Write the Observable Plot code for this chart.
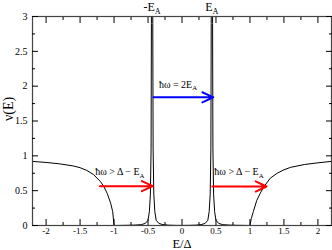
<!DOCTYPE html>
<html><head><meta charset="utf-8">
<script src="https://cdn.jsdelivr.net/npm/d3@7"></script>
<script src="https://cdn.jsdelivr.net/npm/@observablehq/plot@0.6"></script>
<style>body{margin:0;background:#fff}</style>
</head><body><div id="chart"></div>
<script>
// Density of states curve
const energy = [-2.2,-2.0,-1.8,-1.6,-1.5,-1.4,-1.3,-1.2,-1.15,-1.1,-1.05,-1.02,-1.0,
  -0.8,-0.7,-0.6,-0.54,-0.5,-0.48,-0.465,-0.455,-0.45,-0.445,-0.44,-0.435,-0.43,-0.425,-0.415,-0.4,-0.38,-0.34,-0.28,-0.2,-0.1,0,
  0.1,0.2,0.28,0.34,0.38,0.4,0.415,0.425,0.43,0.435,0.44,0.445,0.45,0.455,0.465,0.48,0.5,0.54,0.6,0.7,0.8,
  1.0,1.02,1.05,1.1,1.15,1.2,1.3,1.4,1.5,1.6,1.8,2.0,2.2];
const dos = [0.92,0.905,0.885,0.855,0.83,0.79,0.73,0.63,0.56,0.46,0.32,0.2,0,
  0.003,0.006,0.012,0.03,0.075,0.2,0.45,1.1,2.9,5.5,8,5.5,2.9,1.1,0.45,0.2,0.075,0.03,0.012,0.005,0.002,0.001,
  0.002,0.005,0.012,0.03,0.075,0.2,0.45,1.1,2.9,5.5,8,5.5,2.9,1.1,0.45,0.2,0.075,0.03,0.012,0.006,0.003,
  0,0.1,0.2,0.36,0.46,0.55,0.68,0.75,0.8,0.835,0.875,0.9,0.92];

const xMajor = [-2,-1.5,-1,-0.5,0,0.5,1,1.5,2];
const xMinor = [-1.75,-1.25,-0.75,-0.25,0.25,0.75,1.25,1.75];
const yMajor = [0,0.5,1,1.5,2,2.5,3];
const yMinor = [0.25,0.75,1.25,1.75,2.25,2.75];

const topLabels = ["-E_A", "E_A"];
const topX = [-0.44, 0.44];

const annLabels = ["ħω = 2E_A", "ħω > Δ − E_A", "ħω > Δ − E_A"];
const annX = [-0.34, -1.277, 0.476];
const annY = [2.02, 0.765, 0.765];

const arrowX1 = [-0.42, -1.21, 0.446];
const arrowX2 = [0.46, -0.43, 1.244];
const arrowY = [1.84, 0.565, 0.56];
const arrowColor = ["#0000ff", "#ff0000", "#ff0000"];

const curve = energy.map((e, i) => ({e, v: dos[i]}));
const ai = arrowX1.map((_, i) => i);
const ti = annLabels.map((_, i) => i);

const noText = () => "";
const fmt = d => String(d);

const chart = Plot.plot({
  width: 332, height: 250,
  marginLeft: 32, marginRight: 1, marginTop: 16, marginBottom: 25,
  style: {fontFamily: "'Liberation Serif', 'DejaVu Serif', serif", background: "#fff", color: "#000"},
  x: {domain: [-2.2, 2.2]},
  y: {domain: [0, 3]},
  color: {type: "identity"},
  marks: [
    Plot.line(curve, {x: "e", y: "v", stroke: "#000", strokeWidth: 1, clip: true}),
    Plot.frame({stroke: "#444", strokeWidth: 1.2}),
    Plot.axisX(xMajor, {anchor: "bottom", tickSize: -6, tickFormat: noText, label: null}),
    Plot.axisX(xMinor, {anchor: "bottom", tickSize: -3, tickFormat: noText, label: null}),
    Plot.axisX(xMajor, {anchor: "top", tickSize: -6, tickFormat: noText, label: null}),
    Plot.axisX(xMinor, {anchor: "top", tickSize: -3, tickFormat: noText, label: null}),
    Plot.axisY(yMajor, {anchor: "left", tickSize: -6, tickFormat: noText, label: null}),
    Plot.axisY(yMinor, {anchor: "left", tickSize: -3, tickFormat: noText, label: null}),
    Plot.axisY(yMajor, {anchor: "right", tickSize: -6, tickFormat: noText, label: null}),
    Plot.axisY(yMinor, {anchor: "right", tickSize: -3, tickFormat: noText, label: null}),
    Plot.axisX(xMajor, {anchor: "bottom", tickSize: 0, tickPadding: 2.5, tickFormat: fmt, fontSize: 9, label: null}),
    Plot.axisY(yMajor, {anchor: "left", tickSize: 0, tickPadding: 5, tickFormat: fmt, fontSize: 10, label: null}),
    Plot.text(["E/Δ"], {frameAnchor: "bottom", lineAnchor: "middle", dy: 18, fontSize: 12.5}),
    Plot.text(["ν(E)"], {frameAnchor: "left", lineAnchor: "middle", dx: -24, rotate: -90, fontSize: 14}),
    Plot.text(topLabels, {x: (d, i) => topX[i], frameAnchor: "top", lineAnchor: "middle", dy: -9, fontSize: 12}),
    Plot.arrow(ai, {x1: i => arrowX1[i], x2: i => arrowX2[i], y1: i => arrowY[i], y2: i => arrowY[i],
      stroke: i => arrowColor[i], strokeWidth: 2, headLength: 9, headAngle: 50}),
    Plot.text(ti, {x: i => annX[i], y: i => annY[i], text: i => annLabels[i], textAnchor: "start", fontSize: 10})
  ]
});

d3.select(chart).selectAll("text").each(function() {
  const t = this.textContent;
  if (t.includes("_")) {
    const [main, sub] = t.split("_");
    const sel = d3.select(this);
    sel.text(main);
    sel.append("tspan").attr("font-size", "0.68em").attr("dy", "0.35em").text(sub);
  }
});

document.getElementById("chart").appendChild(chart);
</script>
</body></html>
